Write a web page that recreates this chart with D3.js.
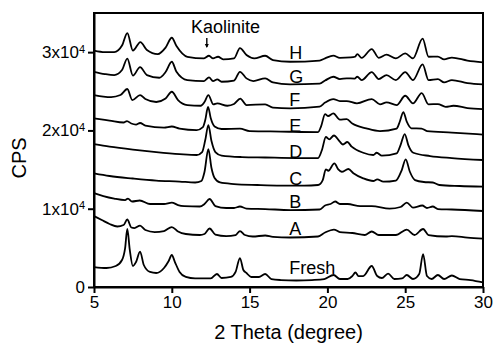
<!DOCTYPE html>
<html>
<head>
<meta charset="utf-8">
<script src="https://cdn.jsdelivr.net/npm/d3@7"></script>
<style>
  body { margin: 0; background: #fff; }
  svg { display: block; }
  text { font-family: "Liberation Sans", Arial, sans-serif; fill: #000; }
</style>
</head>
<body>
<svg id="chart"></svg>
<script>
// XRD patterns, [2 theta, CPS] (curves are stacked as drawn)
const fresh = [[5,2550],[5.8,2430],[6.4,2680],[6.8,3450],[7.0,4980],[7.14,7410],[7.3,4730],[7.5,2680],[7.7,3190],[7.96,4530],[8.2,2810],[8.6,1920],[9.0,1790],[9.5,2430],[9.8,3320],[10.0,4090],[10.2,3190],[10.5,1920],[10.9,1280],[11.5,1090],[12.5,1090],[12.9,1660],[13.2,1150],[13.8,1280],[14.1,1920],[14.38,3700],[14.6,2170],[14.8,1790],[15.1,1280],[15.6,1280],[16.0,1660],[16.4,1020],[17.0,890],[18.0,830],[19.0,890],[19.8,1020],[20.4,1530],[20.8,1020],[21.3,1020],[21.6,1400],[21.8,1850],[22.0,1400],[22.3,1400],[22.85,2680],[23.2,1400],[23.5,1150],[23.9,1720],[24.3,1020],[24.8,1090],[25.1,1530],[25.5,1020],[25.9,1660],[26.15,4210],[26.4,1400],[26.7,1020],[27.1,1530],[27.5,1020],[28.0,1470],[28.5,1020],[29.2,890],[30,580]];
const sampleA = [[5,9070],[5.5,8560],[6.0,8050],[6.5,7730],[6.9,7920],[7.14,8620],[7.4,7600],[7.6,7530],[7.96,7850],[8.3,7280],[8.9,7020],[9.5,7150],[10.0,7660],[10.4,7090],[10.9,6770],[11.8,6640],[12.1,6770],[12.43,7470],[12.8,6700],[13.5,6510],[14.1,6640],[14.38,7150],[14.7,6640],[15.2,6450],[16.0,6580],[16.5,6390],[17.6,6320],[19.4,6450],[19.85,6960],[20.42,7340],[20.8,7020],[21.6,6900],[22.4,6640],[22.85,7090],[23.3,6640],[24.4,6640],[25.1,7340],[25.6,6640],[26.15,7410],[26.5,6640],[27.6,6450],[28.0,6510],[29,6320],[30,6190]];
const sampleB = [[5,12000],[5.6,11620],[6.3,11300],[7.0,11110],[7.18,11300],[7.45,10920],[7.94,11050],[8.6,10600],[9.5,10600],[10.0,10790],[10.4,10470],[10.8,10340],[11.8,10280],[12.1,10600],[12.43,11240],[12.8,10340],[13.5,10090],[14.0,10090],[14.38,10280],[14.8,10020],[16.0,9960],[17.6,9830],[19.5,9900],[19.85,10410],[20.2,10600],[20.5,10920],[20.8,10600],[21.3,10600],[22.1,10340],[22.85,10340],[24.0,10020],[24.7,10220],[25.1,10790],[25.5,10150],[26.1,10410],[26.4,10090],[26.77,10280],[27.1,9960],[28,9900],[30,9710]];
const sampleC = [[5,14520],[6.0,14180],[7.5,13860],[9.0,13600],[10.5,13470],[11.5,13350],[11.9,13540],[12.1,14690],[12.35,17620],[12.55,15200],[12.75,13920],[13.1,13350],[14.0,13150],[15.5,13030],[17.0,12960],[18.5,12960],[19.4,13030],[19.7,13660],[19.9,15030],[20.06,14850],[20.45,15800],[20.7,15030],[20.92,14720],[21.35,15070],[21.67,14520],[22.3,13880],[22.95,13540],[23.2,13750],[23.6,13450],[24.4,13600],[24.78,14940],[25.03,16310],[25.3,14720],[25.63,13660],[26.2,13410],[26.77,13350],[27.2,13030],[28.5,12900],[30,12810]];
const sampleD = [[5,18260],[6.0,17940],[7.5,17560],[9.0,17240],[10.5,16980],[11.6,16860],[11.95,17240],[12.15,18770],[12.35,20690],[12.55,18640],[12.8,17240],[13.2,16790],[14.5,16600],[16,16540],[18,16470],[19.4,16470],[19.65,17500],[19.9,19160],[20.12,18860],[20.42,19350],[20.8,18560],[21.0,18200],[21.28,18520],[21.56,17920],[22.3,17150],[22.95,16860],[23.17,17150],[23.5,16770],[24.45,17070],[24.7,18130],[24.97,19540],[25.2,18130],[25.52,17150],[26.6,16730],[28,16470],[30,16220]];
const sampleE = [[5,21540],[6.0,21260],[6.9,21010],[7.12,21200],[7.4,20880],[7.7,20750],[7.96,20950],[8.3,20620],[9.5,20370],[10.0,20500],[10.5,20240],[11.6,20050],[12.0,20430],[12.15,21330],[12.33,23020],[12.5,21580],[12.75,20500],[13.2,20180],[14.38,20240],[15,19920],[17,19860],[19.4,19790],[19.6,20560],[19.85,22090],[20.05,21840],[20.38,22180],[20.8,21390],[21.24,21450],[21.6,20880],[22.5,20270],[23.38,19920],[24.45,20240],[24.65,21110],[24.88,22350],[25.1,21110],[25.4,20270],[26.05,20240],[26.4,19920],[28,19730],[30,19470]];
const sampleF = [[5,24520],[5.6,24330],[6.1,24260],[6.7,24520],[7.14,25290],[7.46,23880],[7.96,24520],[8.3,24010],[9.0,23630],[9.6,24070],[10.0,24940],[10.4,23880],[11.0,23240],[11.86,23150],[12.1,23630],[12.35,24520],[12.67,23330],[12.92,23460],[13.57,23150],[14.0,23370],[14.4,24070],[14.8,23240],[16.0,23330],[16.5,22900],[17.6,22820],[19.5,23050],[19.85,23560],[20.38,24010],[20.8,23750],[21.24,23750],[21.9,23460],[22.85,24010],[23.38,23330],[23.8,23590],[24.45,23240],[25.0,24430],[25.5,23460],[26.06,24770],[26.5,23330],[27.1,23370],[27.6,23020],[28.1,23150],[29,22860],[30,22730]];
const sampleG = [[5,27490],[5.7,27200],[6.3,27070],[6.8,27710],[7.14,29180],[7.5,27010],[7.96,28090],[8.4,27070],[9.2,26730],[9.6,27460],[10.0,28770],[10.3,27490],[11.0,26430],[12.07,26310],[12.39,26780],[12.65,26310],[12.92,26520],[13.2,26220],[14.0,26370],[14.38,27490],[14.8,26650],[15.24,26310],[16.0,26650],[16.5,26140],[17.6,25890],[19.5,25990],[19.85,26370],[20.38,26860],[20.8,26560],[21.24,26650],[21.75,26630],[21.92,26860],[22.2,26430],[22.85,27460],[23.3,26560],[23.8,27070],[24.4,26430],[25.0,27460],[25.5,26430],[26.12,28440],[26.5,26430],[27.1,26560],[27.5,26140],[28.0,26430],[29,26050],[30,25890]];
const sampleH = [[5,30200],[5.7,30010],[6.3,30010],[6.8,30840],[7.14,32440],[7.5,30200],[7.98,31290],[8.4,30270],[9.1,29750],[9.6,30580],[10.0,31840],[10.3,30780],[11.0,29410],[12.07,29210],[12.39,29540],[12.65,29210],[12.97,29410],[13.3,29080],[14.0,29210],[14.38,30520],[14.8,29630],[15.3,29210],[16.0,29540],[16.5,28990],[17.6,28770],[19.5,28920],[19.85,29210],[20.38,29560],[20.8,29280],[21.5,29330],[21.77,29410],[21.92,29750],[22.2,29280],[22.85,30390],[23.3,29280],[23.8,29690],[24.4,29210],[25.0,29840],[25.5,29210],[26.12,31730],[26.5,29410],[27.1,29440],[27.5,29080],[28.0,29310],[29,28920],[30,28690]];

const sampleNames = ['Fresh', 'A', 'B', 'C', 'D', 'E', 'F', 'G', 'H'];
const patterns = [fresh, sampleA, sampleB, sampleC, sampleD, sampleE, sampleF, sampleG, sampleH];
// label baseline (CPS) at 2 theta = 17.55
const labelLevels = [1660, 6640, 10090, 13030, 16470, 19830, 23110, 26050, 29080];

const xTicks = [5, 10, 15, 20, 25, 30];
const yTicks = [0, 10000, 20000, 30000];

let svg = d3.select('#chart'),
    margin = {top: 13, right: 13, bottom: 57, left: 94},
    width = 496 - margin.left - margin.right,
    height = 344 - margin.top - margin.bottom;

svg.attr('width', 496).attr('height', 344);
let g = svg.append('g').attr('transform', 'translate(' + margin.left + ',' + margin.top + ')');

let xScale = d3.scaleLinear().domain([5, 30]).range([0, width]);
let yScale = d3.scaleLinear().domain([0, 35000]).range([height, 0]);

let line = d3.line()
    .x(function(d) { return xScale(d[0]); })
    .y(function(d) { return yScale(d[1]); })
    .curve(d3.curveMonotoneX);

// patterns
g.selectAll('.pattern')
    .data(patterns)
    .enter().append('path')
    .attr('class', 'pattern')
    .attr('d', line)
    .attr('fill', 'none')
    .attr('stroke', '#000')
    .attr('stroke-width', 1.8)
    .attr('stroke-linejoin', 'round');

// sample labels
g.selectAll('.sample-label')
    .data(sampleNames)
    .enter().append('text')
    .attr('class', 'sample-label')
    .attr('x', xScale(17.55))
    .attr('y', function(d, i) { return yScale(labelLevels[i]); })
    .style('font-size', '18px')
    .text(function(d) { return d; });

// kaolinite marker
g.append('text')
    .attr('x', xScale(11.23))
    .attr('y', yScale(32440))
    .style('font-size', '18px')
    .text('Kaolinite');

let ax = xScale(12.25), ay1 = yScale(31800), ay2 = yScale(30650);
g.append('path')
    .attr('d', 'M' + ax + ',' + ay1 + 'V' + ay2)
    .attr('stroke', '#000')
    .attr('stroke-width', 1.4);
g.append('path')
    .attr('d', 'M' + (ax - 2) + ',' + (ay2 - 3) + 'L' + (ax + 2) + ',' + (ay2 - 3) + 'L' + ax + ',' + (ay2 + 1) + 'Z')
    .attr('fill', '#000');

// axes
let xAxis = g.append('g')
    .attr('transform', 'translate(0,' + height + ')')
    .call(d3.axisBottom(xScale).tickValues(xTicks).tickSize(6).tickSizeOuter(0).tickFormat(d3.format('d')));

let yAxis = g.append('g')
    .call(d3.axisLeft(yScale).tickValues(yTicks).tickSize(6).tickSizeOuter(0));

yAxis.selectAll('.tick text').each(function(d) {
    let t = d3.select(this).text(null);
    if (d === 0) { t.text('0'); return; }
    t.append('tspan').text((d / 10000) + 'x10');
    t.append('tspan').attr('dy', '-0.5em').style('font-size', '11px').text('4');
});

[xAxis, yAxis].forEach(function(a) {
    a.selectAll('.tick text').style('font-size', '17px').style('font-family', '"Liberation Sans", Arial, sans-serif').attr('fill', '#000');
    a.selectAll('.tick line').attr('stroke', '#000').attr('stroke-width', 2);
    a.select('.domain').attr('stroke', '#000').attr('stroke-width', 2);
});

// frame
g.append('rect')
    .attr('width', width)
    .attr('height', height)
    .attr('fill', 'none')
    .attr('stroke', '#000')
    .attr('stroke-width', 2);

// axis titles
svg.append('text')
    .attr('x', margin.left + width / 2)
    .attr('y', 339)
    .attr('text-anchor', 'middle')
    .style('font-size', '20px')
    .text('2 Theta (degree)');

svg.append('text')
    .attr('transform', 'translate(26,158) rotate(-90)')
    .attr('text-anchor', 'middle')
    .style('font-size', '20px')
    .text('CPS');
</script>
</body>
</html>
